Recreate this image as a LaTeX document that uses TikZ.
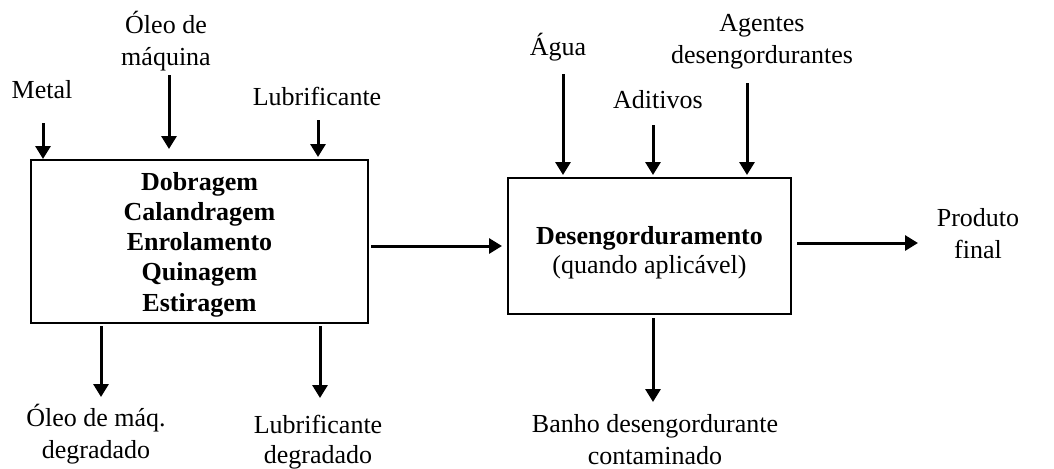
\documentclass[tikz,border=0pt]{standalone}
\usepackage{fontspec}
\setmainfont{Liberation Serif}
\usetikzlibrary{arrows.meta}

\tikzset{
  lbl/.style={inner sep=0pt, align=center, font=\fontsize{13}{16}\selectfont},
  proc/.style={draw, line width=1pt, inner sep=0pt},
  seta/.style={line width=1.5pt, -{Triangle[length=6.5pt, width=7.5pt]}}
}

\begin{document}
\begin{tikzpicture}[x=0.5pt, y=-0.5pt]
  \useasboundingbox (0,0) rectangle (1054,468);
  % caixas de processo
  \node[proc, minimum width=168.5pt, minimum height=81.5pt] (dobra) at (199.5,241.5) {};
  \node[proc, minimum width=141.5pt, minimum height=68pt] (deseng) at (649.5,246) {};
  \node[lbl, font=\fontsize{13}{15.1}\selectfont\bfseries] (dobratxt) at (199.5,244.5)
    {Dobragem\\Calandragem\\Enrolamento\\Quinagem\\Estiragem};
  \node[lbl, font=\fontsize{13}{14.5}\selectfont] (desengtxt) at (649.5,253)
    {\textbf{Desengorduramento}\\(quando aplicável)};
  % entradas
  \node[lbl] (metal) at (42,90) {Metal};
  \node[lbl] (oleo) at (166,41) {Óleo de\\máquina};
  \node[lbl] (lubr) at (317,96) {Lubrificante};
  \node[lbl] (agua) at (558,47) {Água};
  \node[lbl] (aditivos) at (658,100) {Aditivos};
  \node[lbl] (agentes) at (762,42) {Agentes\\desengordurantes};
  % saidas
  \node[lbl] (oleodeg) at (96,434) {Óleo de máq.\\degradado};
  \node[lbl, font=\fontsize{13}{15}\selectfont] (lubrdeg) at (318,442) {Lubrificante\\degradado};
  \node[lbl] (produto) at (978,234) {Produto\\final};
  \node[lbl] (banho) at (655,440) {Banho desengordurante\\contaminado};
  % pontas livres das setas
  \coordinate (cmetal) at (43,123);
  \coordinate (coleo) at (169,75);
  \coordinate (clubr) at (318,120);
  \coordinate (cagua) at (563,74);
  \coordinate (caditivos) at (653,125);
  \coordinate (cagentes) at (747,83);
  \coordinate (coleodeg) at (101,397);
  \coordinate (clubrdeg) at (320,398);
  \coordinate (cbanho) at (653,402);
  \coordinate (cproduto) at (918,243);
  \coordinate (cmeio) at (0,246);
  % setas de entrada
  \draw[seta] (cmetal) -- (cmetal |- dobra.north);
  \draw[seta] (coleo) -- ([yshift=5pt]coleo |- dobra.north);
  \draw[seta] (clubr) -- ([yshift=1pt]clubr |- dobra.north);
  \foreach \c in {cagua,caditivos,cagentes}
    \draw[seta] (\c) -- ([yshift=1pt]\c |- deseng.north);
  % setas de saida
  \draw[seta] ([yshift=-1pt]coleodeg |- dobra.south) -- (coleodeg);
  \draw[seta] ([yshift=-1pt]clubrdeg |- dobra.south) -- (clubrdeg);
  \draw[seta] ([yshift=-1.5pt]cbanho |- deseng.south) -- (cbanho);
  \draw[seta] ([xshift=1pt]dobra.east |- cmeio) -- ([xshift=-2.5pt]deseng.west |- cmeio);
  \draw[seta] ([xshift=2.5pt]deseng.east |- cproduto) -- (cproduto);
\end{tikzpicture}
\end{document}
